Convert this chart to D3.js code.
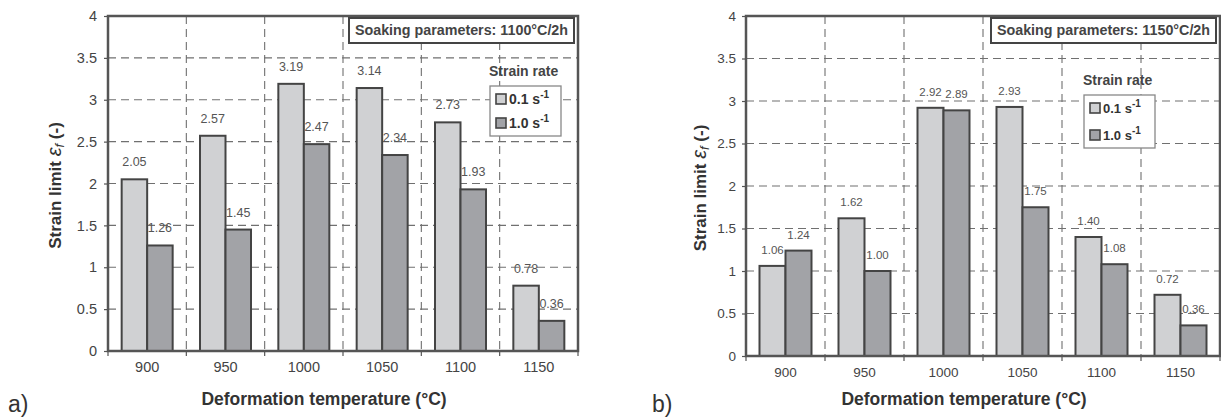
<!DOCTYPE html>
<html>
<head>
<meta charset="utf-8">
<script src="https://cdn.jsdelivr.net/npm/d3@7"></script>
<style>
  body { margin: 0; background: #fff; }
  svg { display: block; font-family: "Liberation Sans", Arial, sans-serif; }
</style>
</head>
<body>
<div id="chart"></div>
<script>
// data
var temps = ["900", "950", "1000", "1050", "1100", "1150"];
var rates = ["0.1", "1.0"];
var yTicks = [0, 0.5, 1, 1.5, 2, 2.5, 3, 3.5, 4];

// a) soaking 1100°C/2h
var limitA_slow = [2.05, 2.57, 3.19, 3.14, 2.73, 0.78];
var limitA_fast = [1.26, 1.45, 2.47, 2.34, 1.93, 0.36];
// b) soaking 1150°C/2h
var limitB_slow = [1.06, 1.62, 2.92, 2.93, 1.40, 0.72];
var limitB_fast = [1.24, 1.00, 2.89, 1.75, 1.08, 0.36];

var colors = { "0.1": "#d0d1d3", "1.0": "#a2a3a7" };

var svg = d3.select("#chart")
    .append("svg")
    .attr("width", 1221)
    .attr("height", 419);

function drawPanel(p) {
    var g = svg.append("g")
        .attr("transform", `translate(${p.left}, ${p.top})`);

    var x = d3.scaleBand().domain(temps).range([0, p.width]);
    var bw = x.bandwidth();
    var xSub = d3.scaleBand().domain(rates)
        .range([bw / 2 - p.barW, bw / 2 + p.barW]);
    var y = d3.scaleLinear().domain([0, 4]).range([p.height, 0]);

    // dashed grid
    g.selectAll(".hgrid").data(yTicks.slice(1, -1)).join("line")
        .attr("x1", 0).attr("x2", p.width)
        .attr("y1", d => y(d)).attr("y2", d => y(d))
        .attr("stroke", "#707070").attr("stroke-width", 1.1)
        .attr("stroke-dasharray", "8,5");
    g.selectAll(".vgrid").data(temps.slice(1)).join("line")
        .attr("x1", d => x(d)).attr("x2", d => x(d))
        .attr("y1", 0).attr("y2", p.height)
        .attr("stroke", "#707070").attr("stroke-width", 1.1)
        .attr("stroke-dasharray", "8,5");

    var rows = temps.map((t, i) => ({
        t: t,
        vals: [{ r: "0.1", v: p.slow[i] }, { r: "1.0", v: p.fast[i] }]
    }));

    var groups = g.selectAll(".grp").data(rows).join("g")
        .attr("transform", d => `translate(${x(d.t)}, 0)`);

    groups.selectAll("rect").data(d => d.vals).join("rect")
        .attr("x", d => xSub(d.r))
        .attr("width", xSub.bandwidth())
        .attr("y", d => y(d.v))
        .attr("height", d => p.height - y(d.v))
        .attr("fill", d => colors[d.r])
        .attr("stroke", "#444")
        .attr("stroke-width", 2);

    groups.selectAll(".val").data(d => d.vals).join("text")
        .attr("x", d => xSub(d.r) + xSub.bandwidth() / 2)
        .attr("y", d => y(d.v) - p.valGap)
        .attr("text-anchor", "middle")
        .attr("font-size", p.valSize)
        .attr("fill", "#555")
        .text(d => d3.format(".2f")(d.v));

    // frame
    g.append("rect")
        .attr("width", p.width).attr("height", p.height)
        .attr("fill", "none").attr("stroke", "#555").attr("stroke-width", 2.5);

    // y axis
    var yAxis = g.append("g").call(d3.axisLeft(y)
        .tickValues(yTicks).tickFormat(d3.format(""))
        .tickSize(4).tickPadding(p.yPad));
    yAxis.attr("font-family", null).attr("font-size", p.tickSize);
    yAxis.select(".domain").remove();
    yAxis.selectAll("line").attr("stroke", "#555").attr("stroke-width", 1.2);
    yAxis.selectAll("text").attr("fill", "#444");

    // x axis
    var xAxis = g.append("g").attr("transform", `translate(0, ${p.height})`)
        .call(d3.axisBottom(x).tickSize(0).tickPadding(11));
    xAxis.attr("font-family", null).attr("font-size", p.tickSize);
    xAxis.select(".domain").remove();
    xAxis.selectAll("text").attr("fill", "#444");
    g.selectAll(".xtick").data(temps.map(t => x(t)).concat([p.width])).join("line")
        .attr("x1", d => d).attr("x2", d => d)
        .attr("y1", p.height).attr("y2", p.height + 5)
        .attr("stroke", "#555").attr("stroke-width", 1.2);

    // axis titles
    g.append("text")
        .attr("x", p.width / 2 - 19).attr("y", p.height + p.xLabelDy)
        .attr("text-anchor", "middle")
        .attr("font-size", 17.5).attr("font-weight", "bold").attr("fill", "#333")
        .text("Deformation temperature (°C)");

    var yl = g.append("text")
        .attr("transform", `translate(${p.yLabelX}, ${p.height / 2 + 2}) rotate(-90)`)
        .attr("text-anchor", "middle")
        .attr("font-size", 17).attr("font-weight", "bold").attr("fill", "#333");
    yl.append("tspan").text("Strain limit  ");
    yl.append("tspan").attr("font-style", "italic").attr("font-weight", "normal")
        .attr("font-size", 20).text("ε");
    yl.append("tspan").attr("font-style", "italic").attr("font-weight", "normal")
        .attr("font-size", 13).attr("dy", 3).text("f");
    yl.append("tspan").attr("dy", -3).text("  (-)");

    // soaking box
    var bx = p.width - 4 - 225;
    g.append("rect")
        .attr("x", bx).attr("y", 2).attr("width", 225).attr("height", 25)
        .attr("fill", "#fff").attr("stroke", "#444").attr("stroke-width", 2);
    g.append("text")
        .attr("x", bx + 112.5).attr("y", 19)
        .attr("text-anchor", "middle")
        .attr("font-size", 14.3).attr("font-weight", "bold").attr("fill", "#444")
        .text(p.soak);

    // legend
    g.append("text")
        .attr("x", p.lx - 1).attr("y", p.ly - 10)
        .attr("font-size", 14).attr("font-weight", "bold").attr("fill", "#444")
        .text("Strain rate");
    g.append("rect")
        .attr("x", p.lx).attr("y", p.ly).attr("width", 71).attr("height", p.legRow + 26)
        .attr("fill", "#fff").attr("stroke", "#888").attr("stroke-width", 1.3);
    var items = g.selectAll(".leg").data(rates).join("g")
        .attr("transform", (d, i) => `translate(${p.lx + 6}, ${p.ly + 8 + i * p.legRow})`);
    items.append("rect")
        .attr("width", 10).attr("height", 10)
        .attr("fill", d => colors[d]).attr("stroke", "#444").attr("stroke-width", 1.6);
    var lt = items.append("text")
        .attr("x", 13).attr("y", 10)
        .attr("font-size", p.legSize).attr("font-weight", "bold").attr("fill", "#333");
    lt.append("tspan").text(d => d + " s");
    lt.append("tspan").attr("dy", -6).attr("font-size", 10).text("-1");

    svg.append("text")
        .attr("x", p.letterX).attr("y", 412)
        .attr("font-size", 23).attr("fill", "#333")
        .text(p.letter);
}

drawPanel({
    left: 108, top: 16, width: 470, height: 335, barW: 25.5,
    slow: limitA_slow, fast: limitA_fast,
    valGap: 13, valSize: 12.5, tickSize: 14.5, yPad: 7, xLabelDy: 54, yLabelX: -47,
    soak: "Soaking parameters: 1100°C/2h",
    lx: 382, ly: 70, legRow: 24, legSize: 14,
    letter: "a)", letterX: 8
});

drawPanel({
    left: 746, top: 16, width: 474, height: 340, barW: 26,
    slow: limitB_slow, fast: limitB_fast,
    valGap: 12, valSize: 11.5, tickSize: 13.5, yPad: 6, xLabelDy: 49, yLabelX: -40,
    soak: "Soaking parameters: 1150°C/2h",
    lx: 338, ly: 79, legRow: 27, legSize: 13,
    letter: "b)", letterX: 652
});
</script>
</body>
</html>
